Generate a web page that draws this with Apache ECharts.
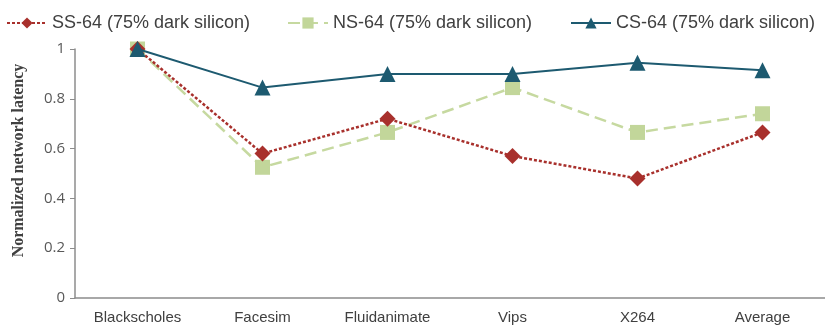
<!DOCTYPE html>
<html><head><meta charset="utf-8">
<script src="https://cdn.jsdelivr.net/npm/echarts@6/dist/echarts.min.js"></script>
<style>html,body{margin:0;padding:0;background:#fff}#c{width:825px;height:326px}</style>
</head><body><div id="c"></div>
<script>
const categories = ['Blackscholes','Facesim','Fluidanimate','Vips','X264','Average'];
const ssValues = [1.0, 0.58, 0.72, 0.57, 0.48, 0.665];
const nsValues = [1.0, 0.525, 0.665, 0.845, 0.665, 0.74];
const csValues = [1.0, 0.845, 0.90, 0.90, 0.945, 0.915];
const seriesNames = ['SS-64 (75% dark silicon)','NS-64 (75% dark silicon)','CS-64 (75% dark silicon)'];
const yTicks = [0, 0.2, 0.4, 0.6, 0.8, 1];

const font = '"Liberation Sans", sans-serif';
const legendLefts = [1, 282, 565];
const chart = echarts.init(document.getElementById('c'));
chart.setOption({
  animation: false,
  legend: seriesNames.map((n, i) => ({
    top: 9, left: legendLefts[i], itemGap: 5, itemWidth: 40, itemHeight: 14,
    textStyle: {fontFamily: font, fontSize: 18, color: '#404040'},
    data: [n]
  })),
  grid: {left: 75, right: -6, top: 49, bottom: 28},
  xAxis: {
    type: 'category', data: categories, boundaryGap: true,
    axisLine: {lineStyle: {color: '#8c8c8c', width: 1.5}},
    axisTick: {show: false},
    axisLabel: {fontFamily: font, fontSize: 15, color: '#404040', margin: 12}
  },
  yAxis: {
    type: 'value', min: 0, max: 1, interval: 0.2,
    name: 'Normalized network latency', nameLocation: 'middle', nameGap: 48,
    nameTextStyle: {fontFamily: '"Liberation Serif", serif', fontWeight: 'bold', fontSize: 16, color: '#404040', padding: [0, 0, 0, 26]},
    axisLine: {show: true, lineStyle: {color: '#8c8c8c', width: 1.5}},
    axisTick: {show: true, inside: false, length: 5, lineStyle: {color: '#8c8c8c'}},
    splitLine: {show: false},
    axisLabel: {fontFamily: '"Open Sans", sans-serif', fontSize: 15, color: '#595959', margin: 10,
      formatter: v => yTicks.includes(Math.round(v*10)/10) ? String(Math.round(v*10)/10) : ''}
  },
  series: [
    {name: seriesNames[0], type: 'line', data: ssValues, symbol: 'diamond', symbolSize: 16,
     lineStyle: {color: '#a8302c', width: 2.5, type: [3, 2]}, itemStyle: {color: '#a8302c'}, z: 3},
    {name: seriesNames[1], type: 'line', data: nsValues, symbol: 'rect', symbolSize: 15,
     lineStyle: {color: '#c6d9a0', width: 2.5, type: [12, 6]}, itemStyle: {color: '#c2d69a'}, z: 2},
    {name: seriesNames[2], type: 'line', data: csValues, symbol: 'triangle', symbolSize: 16,
     lineStyle: {color: '#1d5a70', width: 2}, itemStyle: {color: '#1d5a70'}, z: 4}
  ]
});
</script></body></html>
